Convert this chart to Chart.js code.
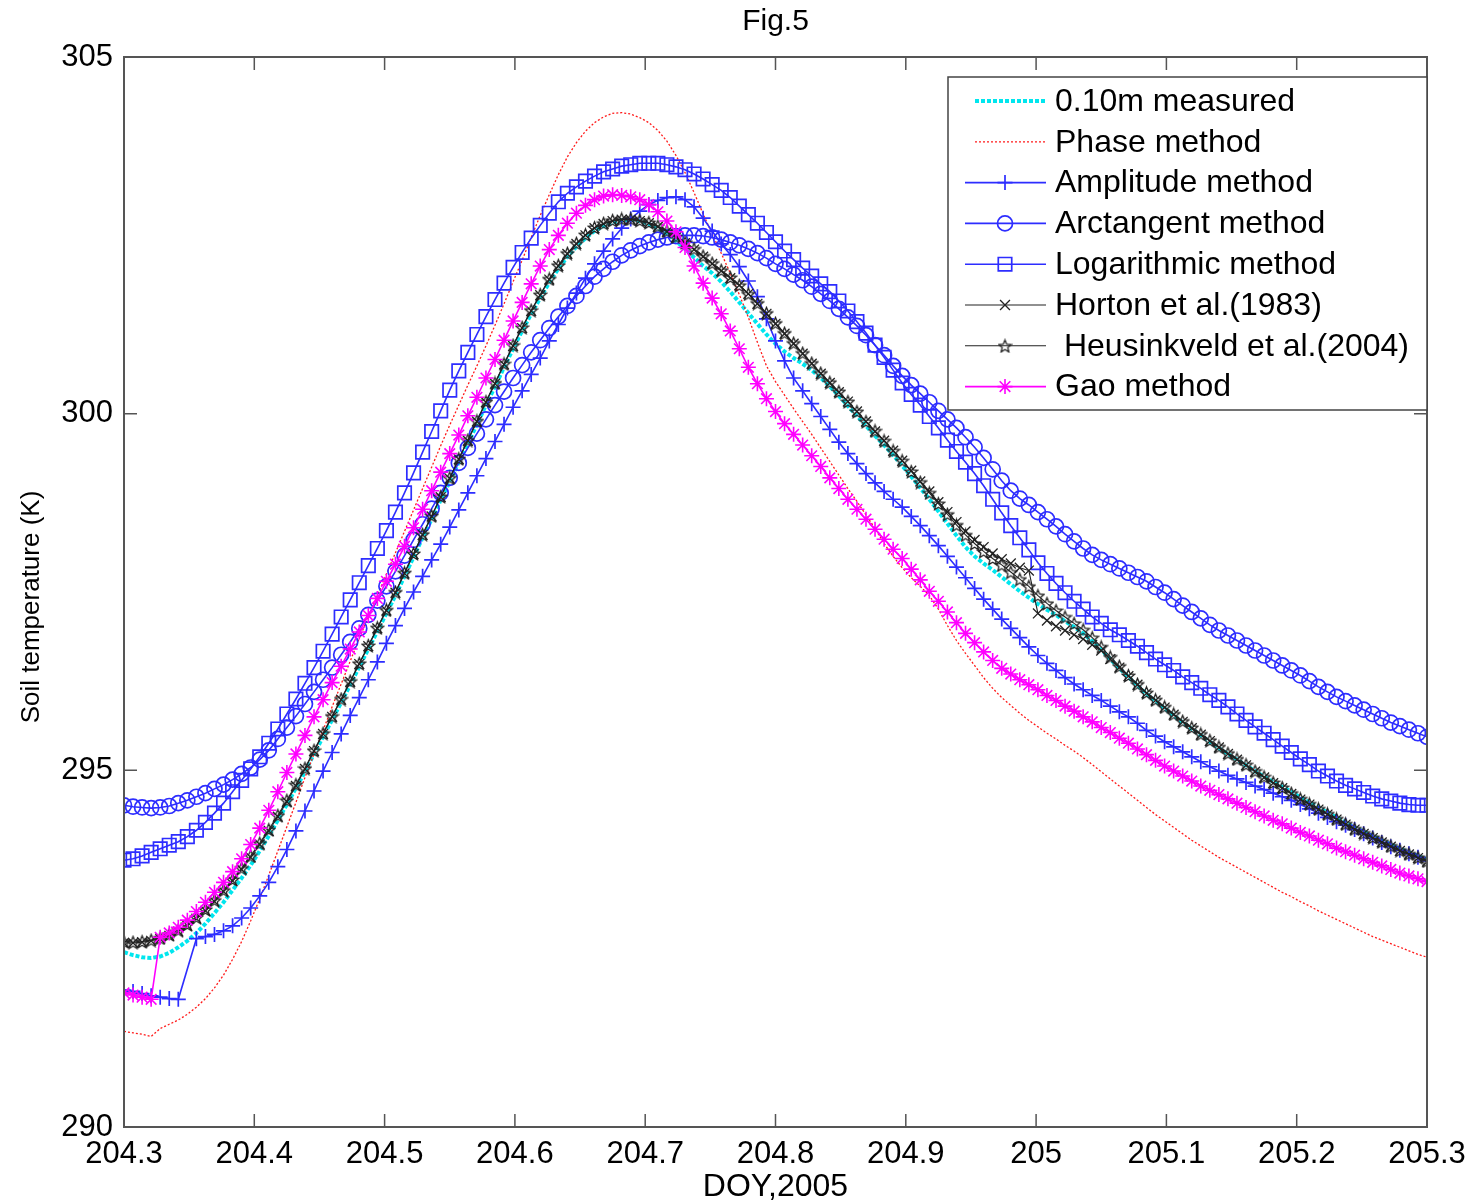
<!DOCTYPE html>
<html>
<head>
<meta charset="utf-8">
<title>Fig.5</title>
<script src="https://cdn.jsdelivr.net/npm/chart.js@4.4.1/dist/chart.umd.min.js"></script>
<style>
  html, body { margin: 0; padding: 0; background: #fff; }
  #wrap { width: 1475px; height: 1203px; }
</style>
</head>
<body>
<div id="wrap"><canvas id="fig5" width="1475" height="1203"></canvas></div>
<script>
// x axis: DOY 204.3 .. 205.3, one sample every 10 minutes
const doy = Array.from({ length: 145 }, (_, i) => 204.3 + i / 144);
const xTicks = [204.3, 204.4, 204.5, 204.6, 204.7, 204.8, 204.9, 205.0, 205.1, 205.2, 205.3];
const xTickLabels = ['204.3', '204.4', '204.5', '204.6', '204.7', '204.8', '204.9', '205', '205.1', '205.2', '205.3'];
const yTicks = [290, 295, 300, 305];
const yTickLabels = ['290', '295', '300', '305'];

// soil temperature (K) at 0.10 m
const measured = [
  292.45, 292.41, 292.38, 292.37, 292.39, 292.44, 292.52, 292.61, 292.72, 292.85,
  293.00, 293.15, 293.32, 293.49, 293.67, 293.87, 294.08, 294.30, 294.52, 294.75,
  294.98, 295.23, 295.47, 295.71, 295.95, 296.20, 296.45, 296.70, 296.95, 297.20,
  297.45, 297.72, 297.99, 298.26, 298.52, 298.79, 299.05, 299.32, 299.58, 299.85,
  300.12, 300.38, 300.65, 300.91, 301.16, 301.40, 301.62, 301.84, 302.03, 302.20,
  302.34, 302.46, 302.56, 302.63, 302.68, 302.71, 302.72, 302.70, 302.66, 302.60,
  302.52, 302.42, 302.31, 302.19, 302.07, 301.97, 301.85, 301.71, 301.56, 301.41,
  301.26, 301.11, 300.98, 300.87, 300.78, 300.70, 300.61, 300.50, 300.38, 300.25,
  300.11, 299.97, 299.83, 299.69, 299.56, 299.42, 299.27, 299.12, 298.96, 298.80,
  298.63, 298.46, 298.29, 298.13, 298.00, 297.90, 297.81, 297.71, 297.61, 297.51,
  297.42, 297.33, 297.25, 297.18, 297.09, 297.01, 296.92, 296.81, 296.69, 296.56,
  296.43, 296.31, 296.19, 296.07, 295.97, 295.87, 295.77, 295.67, 295.58, 295.49,
  295.40, 295.31, 295.23, 295.15, 295.07, 294.99, 294.91, 294.84, 294.77, 294.70,
  294.62, 294.55, 294.48, 294.41, 294.34, 294.27, 294.20, 294.14, 294.08, 294.02,
  293.96, 293.90, 293.85, 293.80, 293.75
];
const phase = [
  291.34, 291.32, 291.30, 291.27, 291.38, 291.44, 291.50, 291.58, 291.68, 291.80,
  291.95, 292.13, 292.35, 292.60, 292.89, 293.20, 293.53, 293.87, 294.21, 294.55,
  294.90, 295.23, 295.56, 295.89, 296.21, 296.53, 296.85, 297.15, 297.45, 297.75,
  298.05, 298.35, 298.65, 298.95, 299.25, 299.55, 299.84, 300.12, 300.40, 300.67,
  300.95, 301.24, 301.54, 301.85, 302.15, 302.47, 302.78, 303.07, 303.35, 303.60,
  303.80, 303.96, 304.08, 304.16, 304.21, 304.22, 304.20, 304.15, 304.08, 303.97,
  303.82, 303.62, 303.38, 303.10, 302.80, 302.52, 302.25, 301.97, 301.67, 301.35,
  301.00, 300.67, 300.45, 300.26, 300.07, 299.89, 299.71, 299.52, 299.33, 299.14,
  298.95, 298.77, 298.58, 298.39, 298.18, 298.00, 297.84, 297.70, 297.58, 297.45,
  297.26, 297.03, 296.82, 296.64, 296.47, 296.30, 296.15, 296.02, 295.91, 295.80,
  295.70, 295.61, 295.52, 295.44, 295.35, 295.27, 295.18, 295.08, 294.98, 294.88,
  294.78, 294.68, 294.58, 294.48, 294.38, 294.29, 294.20, 294.11, 294.02, 293.94,
  293.86, 293.78, 293.71, 293.64, 293.57, 293.50, 293.43, 293.36, 293.29, 293.23,
  293.16, 293.10, 293.03, 292.97, 292.91, 292.85, 292.79, 292.73, 292.67, 292.62,
  292.57, 292.52, 292.47, 292.42, 292.38
];
const amplitude = [
  291.92, 291.90, 291.87, 291.84, 291.82, 291.80, 291.79, null, 292.64, 292.67,
  292.70, 292.75, 292.82, 292.93, 293.07, 293.24, 293.43, 293.65, 293.89, 294.15,
  294.43, 294.71, 294.99, 295.25, 295.51, 295.77, 296.02, 296.27, 296.52, 296.78,
  297.03, 297.27, 297.50, 297.72, 297.95, 298.17, 298.41, 298.65, 298.89, 299.13,
  299.37, 299.61, 299.85, 300.09, 300.32, 300.55, 300.78, 301.02, 301.25, 301.48,
  301.69, 301.90, 302.10, 302.28, 302.45, 302.60, 302.73, 302.84, 302.93, 302.99,
  303.03, 303.04, 303.00, 302.90, 302.74, 302.56, 302.38, 302.23, 302.06, 301.86,
  301.64, 301.33, 301.02, 300.74, 300.50, 300.32, 300.14, 299.96, 299.78, 299.60,
  299.44, 299.30, 299.16, 299.03, 298.91, 298.80, 298.69, 298.56, 298.43, 298.29,
  298.15, 298.00, 297.85, 297.70, 297.55, 297.40, 297.26, 297.12, 296.99, 296.86,
  296.73, 296.61, 296.50, 296.40, 296.30, 296.21, 296.13, 296.05, 295.98, 295.90,
  295.82, 295.75, 295.66, 295.56, 295.48, 295.40, 295.33, 295.26, 295.19, 295.12,
  295.05, 294.99, 294.93, 294.88, 294.83, 294.78, 294.73, 294.68, 294.63, 294.58,
  294.52, 294.46, 294.40, 294.34, 294.28, 294.23, 294.17, 294.11, 294.05, 293.99,
  293.93, 293.88, 293.83, 293.78, 293.73
];
const arctangent = [
  294.51, 294.49, 294.48, 294.47, 294.48, 294.50, 294.54, 294.58, 294.63, 294.68,
  294.74, 294.80, 294.87, 294.95, 295.04, 295.15, 295.28, 295.44, 295.60, 295.76,
  295.93, 296.10, 296.27, 296.44, 296.62, 296.80, 296.99, 297.18, 297.38, 297.58,
  297.79, 298.01, 298.23, 298.45, 298.67, 298.89, 299.10, 299.31, 299.52, 299.72,
  299.92, 300.12, 300.31, 300.50, 300.68, 300.86, 301.03, 301.20, 301.36, 301.51,
  301.65, 301.79, 301.92, 302.03, 302.13, 302.22, 302.29, 302.35, 302.40, 302.44,
  302.47, 302.49, 302.50, 302.50, 302.49, 302.47, 302.44, 302.40, 302.36, 302.31,
  302.25, 302.18, 302.10, 302.03, 301.95, 301.87, 301.78, 301.68, 301.58, 301.47,
  301.35, 301.23, 301.10, 300.96, 300.82, 300.67, 300.53, 300.40, 300.28, 300.16,
  300.04, 299.92, 299.80, 299.67, 299.53, 299.38, 299.22, 299.06, 298.92, 298.81,
  298.72, 298.62, 298.52, 298.42, 298.31, 298.21, 298.11, 298.02, 297.95, 297.89,
  297.83, 297.77, 297.71, 297.65, 297.57, 297.49, 297.40, 297.31, 297.22, 297.13,
  297.04, 296.96, 296.89, 296.82, 296.75, 296.68, 296.61, 296.54, 296.47, 296.40,
  296.33, 296.25, 296.17, 296.10, 296.03, 295.97, 295.91, 295.85, 295.79, 295.73,
  295.67, 295.62, 295.57, 295.52, 295.47
];
const logarithmic = [
  293.74, 293.76, 293.80, 293.85, 293.90, 293.95, 294.00, 294.07, 294.16, 294.27,
  294.40, 294.54, 294.70, 294.86, 295.02, 295.19, 295.38, 295.58, 295.79, 296.00,
  296.22, 296.44, 296.67, 296.91, 297.15, 297.39, 297.63, 297.87, 298.11, 298.36,
  298.62, 298.89, 299.17, 299.46, 299.75, 300.04, 300.33, 300.60, 300.86, 301.11,
  301.36, 301.60, 301.83, 302.05, 302.26, 302.46, 302.64, 302.81, 302.97, 303.09,
  303.18, 303.26, 303.33, 303.39, 303.43, 303.47, 303.49, 303.51, 303.51, 303.51,
  303.49, 303.46, 303.42, 303.36, 303.29, 303.21, 303.13, 303.03, 302.91, 302.79,
  302.67, 302.54, 302.41, 302.28, 302.16, 302.04, 301.93, 301.82, 301.71, 301.58,
  301.44, 301.29, 301.13, 300.96, 300.79, 300.61, 300.43, 300.27, 300.12, 299.96,
  299.80, 299.63, 299.47, 299.32, 299.16, 298.99, 298.80, 298.61, 298.43, 298.26,
  298.09, 297.91, 297.76, 297.62, 297.49, 297.37, 297.26, 297.15, 297.06, 296.97,
  296.90, 296.82, 296.74, 296.65, 296.56, 296.48, 296.40, 296.31, 296.23, 296.15,
  296.06, 295.98, 295.89, 295.79, 295.70, 295.61, 295.52, 295.43, 295.34, 295.25,
  295.16, 295.08, 294.99, 294.92, 294.85, 294.79, 294.74, 294.69, 294.64, 294.60,
  294.57, 294.54, 294.52, 294.51, 294.51
];
const horton = [
  292.58, 292.58, 292.59, 292.61, 292.64, 292.68, 292.74, 292.82, 292.92, 293.03,
  293.16, 293.30, 293.45, 293.61, 293.78, 293.96, 294.15, 294.35, 294.56, 294.78,
  295.02, 295.27, 295.51, 295.75, 295.99, 296.24, 296.49, 296.74, 296.99, 297.24,
  297.49, 297.76, 298.03, 298.30, 298.56, 298.83, 299.09, 299.36, 299.62, 299.89,
  300.16, 300.42, 300.69, 300.95, 301.20, 301.44, 301.66, 301.88, 302.07, 302.24,
  302.38, 302.50, 302.60, 302.66, 302.70, 302.72, 302.72, 302.70, 302.67, 302.62,
  302.55, 302.47, 302.39, 302.30, 302.20, 302.10, 302.00, 301.90, 301.80, 301.68,
  301.54, 301.40, 301.26, 301.12, 300.98, 300.84, 300.70, 300.56, 300.43, 300.30,
  300.17, 300.03, 299.89, 299.75, 299.62, 299.48, 299.34, 299.20, 299.05, 298.91,
  298.76, 298.62, 298.48, 298.35, 298.23, 298.13, 298.04, 297.96, 297.90, 297.84,
  297.80, 297.20, 297.10, 297.02, 296.96, 296.90, 296.84, 296.76, 296.68, 296.56,
  296.44, 296.32, 296.20, 296.08, 295.98, 295.88, 295.78, 295.68, 295.59, 295.50,
  295.41, 295.32, 295.23, 295.15, 295.07, 294.98, 294.90, 294.82, 294.75, 294.67,
  294.59, 294.52, 294.45, 294.38, 294.31, 294.24, 294.17, 294.11, 294.05, 293.99,
  293.93, 293.87, 293.82, 293.77, 293.72
];
const heusinkveld = [
  292.60, 292.59, 292.60, 292.62, 292.65, 292.70, 292.76, 292.84, 292.94, 293.05,
  293.18, 293.32, 293.47, 293.63, 293.80, 293.98, 294.17, 294.37, 294.58, 294.80,
  295.03, 295.28, 295.52, 295.76, 296.00, 296.25, 296.50, 296.75, 297.00, 297.25,
  297.50, 297.77, 298.04, 298.31, 298.57, 298.84, 299.10, 299.37, 299.63, 299.90,
  300.17, 300.43, 300.70, 300.96, 301.21, 301.45, 301.67, 301.89, 302.08, 302.25,
  302.39, 302.51, 302.61, 302.67, 302.71, 302.73, 302.73, 302.71, 302.68, 302.63,
  302.56, 302.48, 302.40, 302.31, 302.21, 302.11, 302.01, 301.91, 301.80, 301.68,
  301.55, 301.41, 301.27, 301.13, 300.99, 300.85, 300.71, 300.57, 300.44, 300.31,
  300.17, 300.03, 299.89, 299.76, 299.62, 299.48, 299.34, 299.19, 299.04, 298.89,
  298.74, 298.59, 298.44, 298.30, 298.18, 298.07, 297.97, 297.88, 297.78, 297.68,
  297.58, 297.45, 297.34, 297.24, 297.15, 297.06, 296.97, 296.86, 296.73, 296.59,
  296.46, 296.33, 296.21, 296.09, 295.99, 295.89, 295.79, 295.69, 295.60, 295.51,
  295.42, 295.33, 295.24, 295.16, 295.08, 294.99, 294.91, 294.83, 294.76, 294.68,
  294.60, 294.53, 294.46, 294.39, 294.32, 294.25, 294.18, 294.12, 294.06, 294.00,
  293.94, 293.88, 293.83, 293.78, 293.73
];
const gao = [
  291.88, 291.85, 291.82, 291.79, 292.66, 292.72, 292.80, 292.90, 293.02, 293.15,
  293.29, 293.43, 293.58, 293.76, 293.96, 294.19, 294.44, 294.70, 294.97, 295.23,
  295.49, 295.75, 295.99, 296.23, 296.46, 296.70, 296.94, 297.17, 297.41, 297.65,
  297.89, 298.14, 298.40, 298.66, 298.92, 299.18, 299.44, 299.70, 299.97, 300.23,
  300.50, 300.76, 301.03, 301.30, 301.56, 301.82, 302.07, 302.30, 302.50, 302.67,
  302.81, 302.92, 303.00, 303.05, 303.07, 303.06, 303.04, 303.00, 302.93, 302.83,
  302.70, 302.55, 302.33, 302.07, 301.83, 301.62, 301.40, 301.16, 300.91, 300.65,
  300.42, 300.21, 300.03, 299.86, 299.71, 299.56, 299.41, 299.26, 299.10, 298.95,
  298.80, 298.66, 298.52, 298.38, 298.24, 298.10, 297.97, 297.82, 297.67, 297.51,
  297.37, 297.22, 297.07, 296.92, 296.79, 296.66, 296.54, 296.43, 296.35, 296.27,
  296.20, 296.13, 296.05, 295.98, 295.90, 295.83, 295.75, 295.68, 295.60, 295.53,
  295.45, 295.38, 295.30, 295.22, 295.14, 295.06, 294.99, 294.92, 294.85, 294.78,
  294.72, 294.66, 294.60, 294.54, 294.48, 294.42, 294.36, 294.30, 294.25, 294.19,
  294.13, 294.08, 294.02, 293.97, 293.91, 293.86, 293.81, 293.76, 293.71, 293.66,
  293.61, 293.56, 293.52, 293.48, 293.44
];

const FONT = '"Liberation Sans", Arial, Helvetica, sans-serif';
const blue = 'rgb(45,45,255)';
const black = '#222';

// pentagram marker for Heusinkveld
function makePentagram(size, color) {
  const c = document.createElement('canvas');
  c.width = size;
  c.height = size;
  const g = c.getContext('2d');
  const cx = size / 2, cy = size / 2 + 0.8;
  const r1 = size / 2 - 1, r2 = r1 * 0.45;
  g.beginPath();
  for (let k = 0; k < 10; k++) {
    const r = k % 2 ? r2 : r1;
    const a = -Math.PI / 2 + k * Math.PI / 5;
    g.lineTo(cx + r * Math.cos(a), cy + r * Math.sin(a));
  }
  g.closePath();
  g.strokeStyle = color;
  g.lineWidth = 1.3;
  g.stroke();
  return c;
}
const starImg = makePentagram(15, black);

const datasets = [
  { label: '0.10m measured', data: measured, borderColor: '#00e6ee', borderWidth: 4,
    borderDash: [4, 2], pointRadius: 0, order: 8 },
  { label: 'Phase method', data: phase, borderColor: '#ff1a1a', borderWidth: 1.3,
    borderDash: [2, 2], pointRadius: 0, order: 7 },
  { label: 'Amplitude method', data: amplitude, borderColor: blue, borderWidth: 1.6,
    pointStyle: 'cross', pointRadius: 7.5, pointBorderWidth: 1.7, spanGaps: true, order: 6 },
  { label: 'Arctangent method', data: arctangent, borderColor: blue, borderWidth: 1.6,
    pointStyle: 'circle', pointRadius: 7.5, pointBorderWidth: 1.7, order: 5 },
  { label: 'Logarithmic method', data: logarithmic, borderColor: blue, borderWidth: 1.6,
    pointStyle: 'rect', pointRadius: 9.5, pointBorderWidth: 1.7, order: 4 },
  { label: 'Horton et al.(1983)', data: horton, borderColor: black, borderWidth: 1.1,
    pointStyle: 'crossRot', pointRadius: 7, pointBorderWidth: 1.3, order: 3 },
  { label: ' Heusinkveld et al.(2004)', data: heusinkveld, borderColor: black, borderWidth: 1.1,
    pointStyle: starImg, pointRadius: 7, pointBorderWidth: 1.3, order: 2 },
  { label: 'Gao method', data: gao, borderColor: '#ff00ff', borderWidth: 1.6,
    pointStyle: 'star', pointRadius: 7.5, pointBorderWidth: 1.6, order: 1 }
];
datasets.forEach(ds => {
  ds.pointBorderColor = ds.borderColor;
  ds.pointBackgroundColor = 'rgba(0,0,0,0)';
  ds.backgroundColor = 'rgba(0,0,0,0)';
  ds.fill = false;
  ds.tension = 0;
});

// box, inward ticks, legend box and titles, MATLAB style
const figDecor = {
  id: 'figDecor',
  afterDraw(chart) {
    const { ctx, chartArea: a, scales } = chart;
    ctx.save();

    ctx.strokeStyle = '#555';
    ctx.lineWidth = 2;
    ctx.setLineDash([]);
    ctx.strokeRect(a.left, a.top, a.right - a.left, a.bottom - a.top);
    ctx.lineWidth = 1.5;
    ctx.beginPath();
    xTicks.forEach(v => {
      const px = scales.x.getPixelForValue(v);
      ctx.moveTo(px, a.bottom); ctx.lineTo(px, a.bottom - 13);
      ctx.moveTo(px, a.top); ctx.lineTo(px, a.top + 13);
    });
    yTicks.forEach(v => {
      const py = scales.y.getPixelForValue(v);
      ctx.moveTo(a.left, py); ctx.lineTo(a.left + 13, py);
      ctx.moveTo(a.right, py); ctx.lineTo(a.right - 13, py);
    });
    ctx.stroke();

    // legend
    const bw = 479, bh = 333;
    const bx = a.right - bw, by = a.top + 20;
    ctx.fillStyle = '#fff';
    ctx.fillRect(bx, by, bw, bh);
    ctx.strokeStyle = '#444';
    ctx.lineWidth = 1.5;
    ctx.strokeRect(bx, by, bw, bh);
    const rowH = 40.8;
    chart.data.datasets.forEach((ds, k) => {
      const y = by + 24 + k * rowH;
      const x0 = bx + 17, x1 = bx + 98, xm = bx + 57;
      ctx.save();
      ctx.strokeStyle = ds.borderColor;
      ctx.lineWidth = ds.borderWidth;
      ctx.setLineDash(ds.borderDash || []);
      ctx.beginPath();
      ctx.moveTo(ds.pointRadius ? x0 : x0 + 10, y);
      ctx.lineTo(x1, y);
      ctx.stroke();
      ctx.setLineDash([]);
      if (ds.pointRadius) {
        ctx.fillStyle = 'rgba(0,0,0,0)';
        ctx.lineWidth = ds.pointBorderWidth;
        Chart.helpers.drawPoint(ctx, {
          pointStyle: ds.pointStyle, rotation: 0,
          radius: ds.pointRadius, borderWidth: ds.pointBorderWidth
        }, xm, y);
      }
      ctx.restore();
      ctx.fillStyle = '#000';
      ctx.font = '32px ' + FONT;
      ctx.textAlign = 'left';
      ctx.textBaseline = 'middle';
      ctx.fillText(ds.label, bx + 107, y + 1);
    });

    // titles
    ctx.fillStyle = '#000';
    ctx.textAlign = 'center';
    ctx.textBaseline = 'middle';
    ctx.font = '30px ' + FONT;
    ctx.fillText('Fig.5', (a.left + a.right) / 2, 22);
    ctx.font = '32px ' + FONT;
    ctx.fillText('DOY,2005', (a.left + a.right) / 2, 1187);
    ctx.translate(32, 607);
    ctx.rotate(-Math.PI / 2);
    ctx.font = '26px ' + FONT;
    ctx.fillText('Soil temperature (K)', 0, 0);
    ctx.restore();
  }
};

const config = {
  type: 'line',
  data: { labels: doy, datasets: datasets },
  options: {
    responsive: false,
    animation: false,
    events: [],
    layout: { padding: { top: 57, right: 48, left: 0, bottom: 0 } },
    plugins: { legend: { display: false }, tooltip: { enabled: false }, title: { display: false } },
    scales: {
      x: {
        type: 'linear',
        min: 204.3,
        max: 205.3,
        afterBuildTicks: s => { s.ticks = xTicks.map(v => ({ value: v })); },
        afterFit: s => { s.height = 76; },
        grid: { display: false, drawTicks: false },
        border: { display: false },
        ticks: {
          autoSkip: false, maxRotation: 0, padding: 9, color: '#000',
          font: { family: FONT, size: 31 },
          callback: (v, i) => xTickLabels[i]
        }
      },
      y: {
        type: 'linear',
        min: 290,
        max: 305,
        afterBuildTicks: s => { s.ticks = yTicks.map(v => ({ value: v })); },
        afterFit: s => { s.width = 124; },
        grid: { display: false, drawTicks: false },
        border: { display: false },
        ticks: {
          padding: 11, color: '#000',
          font: { family: FONT, size: 31 },
          callback: (v, i) => yTickLabels[i]
        }
      }
    }
  },
  plugins: [figDecor]
};

const fig5 = new Chart(document.getElementById('fig5'), config);
</script>
</body>
</html>
